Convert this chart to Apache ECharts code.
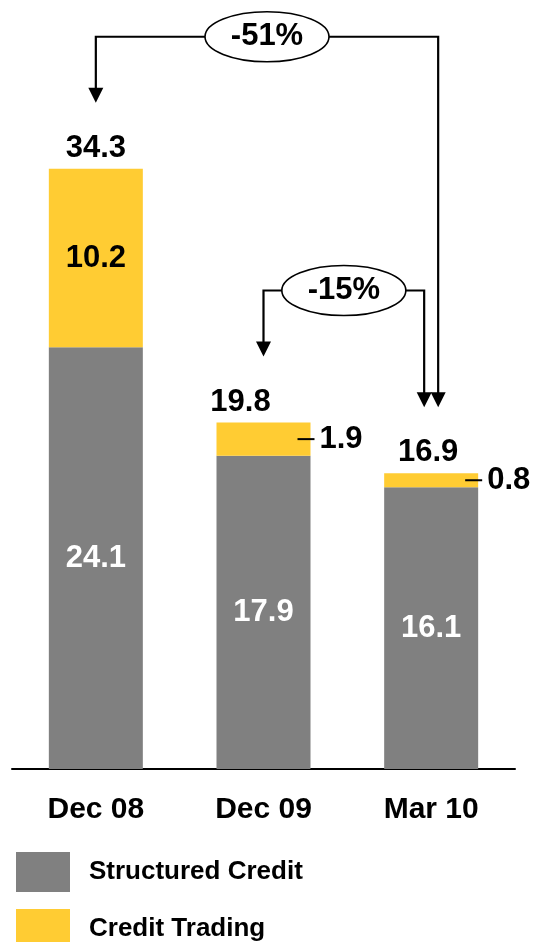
<!DOCTYPE html>
<html>
<head>
<meta charset="utf-8">
<title>Credit</title>
<script src="https://cdn.jsdelivr.net/npm/echarts@6/dist/echarts.min.js"></script>
<style>
    html, body { margin: 0; padding: 0; background: #fff; }
    #chart { width: 534px; height: 942px; }
</style>
</head>
<body>
<div id="chart"></div>
<script>
// 数据
var categories = ['Dec 08', 'Dec 09', 'Mar 10'];
var structuredCredit = [24.1, 17.9, 16.1];
var creditTrading = [10.2, 1.9, 0.8];
var totals = [34.3, 19.8, 16.9];
// 变化箭头: 从哪根柱到哪根柱
var changes = [
    { from: 0, to: 2, text: '-51%' },
    { from: 1, to: 2, text: '-15%' }
];

var FONT = 'Liberation Sans, Arial, sans-serif';
var GREY = '#808080', YELLOW = '#FFCC33';
var NUM_SIZE = 31;

var chart = echarts.init(document.getElementById('chart'));

// 小数值的标签放在柱子右边，带一根引线
function sideLabel(dx) {
    return {
        show: true,
        position: 'right',
        distance: 0,
        offset: [dx, 0],
        formatter: '{l|}{v|{c}}',
        rich: {
            l: { width: 17, height: 2, backgroundColor: '#000', verticalAlign: 'middle' },
            v: { fontFamily: FONT, fontWeight: 'bold', fontSize: NUM_SIZE, color: '#000', padding: [0, 0, 0, 5], verticalAlign: 'middle' }
        }
    };
}

var tradingData = creditTrading.map(function(v, i) {
    if (i === 0) return v;
    return { value: v, label: sideLabel(-13) };
});

var totalOffsets = [[0, 0], [-23, 0], [-3, 0]];
var totalData = totals.map(function(v, i) {
    return { value: 0, label: { offset: totalOffsets[i] } };
});

function legendItem(name, top) {
    return {
        orient: 'vertical',
        left: 16,
        top: top,
        padding: 0,
        itemWidth: 54,
        itemHeight: 40,
        icon: 'rect',
        selectedMode: false,
        data: [name],
        textStyle: { fontFamily: FONT, fontWeight: 'bold', fontSize: 26, color: '#000', padding: [0, 0, 0, 14] }
    };
}

var option = {
    animation: false,
    grid: { left: 12, right: 19, top: 69, bottom: 173 },
    legend: [
        legendItem('Structured Credit', 852),
        legendItem('Credit Trading', 909)
    ],
    xAxis: {
        type: 'category',
        data: categories,
        axisTick: { show: false },
        axisLine: { lineStyle: { color: '#000', width: 2 } },
        axisLabel: { fontFamily: FONT, fontWeight: 'bold', fontSize: 30, color: '#000', margin: 26 }
    },
    yAxis: { type: 'value', min: 0, max: 40, show: false },
    series: [
        {
            name: 'Structured Credit',
            type: 'bar',
            stack: 'a',
            barWidth: 94,
            data: structuredCredit,
            itemStyle: { color: GREY },
            label: { show: true, position: 'inside', fontFamily: FONT, fontWeight: 'bold', fontSize: NUM_SIZE, color: '#fff' }
        },
        {
            name: 'Credit Trading',
            type: 'bar',
            stack: 'a',
            barWidth: 94,
            data: tradingData,
            itemStyle: { color: YELLOW },
            label: { show: true, position: 'inside', fontFamily: FONT, fontWeight: 'bold', fontSize: NUM_SIZE, color: '#000' }
        },
        {
            name: 'Total',
            type: 'bar',
            stack: 'a',
            barWidth: 94,
            data: totalData,
            itemStyle: { color: 'rgba(0,0,0,0)' },
            label: {
                show: true,
                position: 'top',
                distance: 5,
                fontFamily: FONT, fontWeight: 'bold', fontSize: NUM_SIZE, color: '#000',
                formatter: function(p) { return totals[p.dataIndex].toFixed(1); }
            },
            silent: true
        }
    ]
};
chart.setOption(option);

// 箭头 + 椭圆百分比
function arrowHead(x, tipY) {
    return {
        type: 'polygon',
        shape: { points: [[x - 7.5, tipY - 15], [x + 7.5, tipY - 15], [x, tipY]] },
        style: { fill: '#000' }
    };
}
function buildArrows() {
    var els = [];
    changes.forEach(function(c, k) {
        var p1 = chart.convertToPixel({ seriesIndex: 0 }, [c.from, totals[c.from]]);
        var p2 = chart.convertToPixel({ seriesIndex: 0 }, [c.to, totals[c.to]]);
        var x1 = p1[0];
        var x2 = p2[0] + (k === 0 ? 7 : -7);
        var tip1 = p1[1] - 66, tip2 = p2[1] - 66;
        var hY = tip1 - 66;
        els.push({
            type: 'polyline',
            shape: { points: [[x1, tip1 - 14], [x1, hY], [x2, hY], [x2, tip2 - 14]] },
            style: { stroke: '#000', lineWidth: 2.2, fill: null }
        });
        els.push(arrowHead(x1, tip1));
        els.push(arrowHead(x2, tip2));
        var cx = (x1 + x2) / 2;
        els.push({
            type: 'ellipse',
            shape: { cx: cx, cy: hY, rx: 62, ry: 25 },
            style: { fill: '#fff', stroke: '#000', lineWidth: 1.6 },
            z: 10
        });
        els.push({
            type: 'text',
            x: cx, y: hY,
            style: { text: c.text, fontFamily: FONT, fontWeight: 'bold', fontSize: NUM_SIZE, fill: '#000', align: 'center', verticalAlign: 'middle' },
            z: 11
        });
    });
    chart.setOption({ graphic: els });
}
buildArrows();

window.addEventListener('resize', function() {
    chart.resize();
    buildArrows();
});
</script>
</body>
</html>
